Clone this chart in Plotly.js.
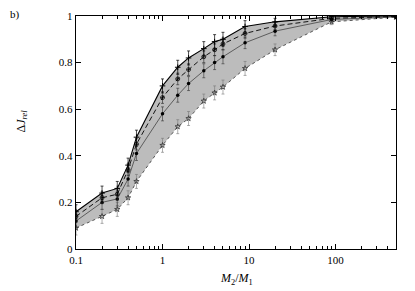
<!DOCTYPE html>
<html>
<head>
<meta charset="utf-8">
<script src="https://cdn.plot.ly/plotly-3.0.1.min.js"></script>
<style>html,body{margin:0;padding:0;background:#fff;}#chart{width:415px;height:291px;}</style>
</head>
<body>
<div id="chart"></div>
<script>
// Mass ratio M2/M1
var massRatio = [0.1, 0.2, 0.3, 0.4, 0.5, 1, 1.5, 2, 3, 4, 5, 9, 20, 90, 500];
// Upper boundary series (solid line, + markers)
var upperSeries = [0.16, 0.24, 0.26, 0.36, 0.48, 0.70, 0.78, 0.82, 0.86, 0.89, 0.90, 0.955, 0.975, 0.997, 1.0];
var upperErr    = [0.03, 0.03, 0.03, 0.03, 0.03, 0.03, 0.03, 0.03, 0.03, 0.03, 0.03, 0.025, 0.015, 0.008, 0.008];
// Dashed series (open circles)
var dashedSeries = [0.14, 0.22, 0.235, 0.34, 0.45, 0.65, 0.73, 0.77, 0.825, 0.855, 0.88, 0.925, 0.957, 0.99, 0.998];
var dashedErr    = [0.025, 0.025, 0.025, 0.025, 0.025, 0.025, 0.025, 0.025, 0.025, 0.025, 0.025, 0.02, 0.015, 0.008, 0.008];
// Solid thin series (filled circles)
var filledSeries = [0.12, 0.20, 0.215, 0.30, 0.41, 0.58, 0.66, 0.71, 0.765, 0.80, 0.825, 0.885, 0.935, 0.985, 0.997];
var filledErr    = [0.03, 0.03, 0.03, 0.03, 0.03, 0.03, 0.03, 0.03, 0.03, 0.03, 0.03, 0.025, 0.02, 0.01, 0.008];
// Lower boundary series (dotted, star markers)
var lowerSeries = [0.09, 0.14, 0.17, 0.22, 0.29, 0.445, 0.525, 0.56, 0.635, 0.67, 0.695, 0.775, 0.855, 0.975, 0.995];
var lowerErr    = [0.03, 0.03, 0.03, 0.03, 0.03, 0.03, 0.03, 0.03, 0.03, 0.03, 0.03, 0.03, 0.025, 0.012, 0.008];

var xTickVals = [0.1, 1, 10, 100];
var xTickText = ['0.1', '1', '10', '100'];
var xMinorVals = [0.2,0.3,0.4,0.5,0.6,0.7,0.8,0.9,2,3,4,5,6,7,8,9,20,30,40,50,60,70,80,90,200,300,400,500];
var yTickVals = [0, 0.2, 0.4, 0.6, 0.8, 1];
var yTickText = ['0', '0.2', '0.4', '0.6', '0.8', '1'];

var serif = '"Liberation Serif", "Times New Roman", serif';

var traces = [
  {x: massRatio, y: lowerSeries, mode: 'lines', line: {width: 0, color: 'rgba(0,0,0,0)'}, showlegend: false, hoverinfo: 'skip'},
  {x: massRatio, y: upperSeries, mode: 'lines', line: {width: 0, color: 'rgba(0,0,0,0)'}, fill: 'tonexty', fillcolor: 'rgb(188,188,188)', showlegend: false, hoverinfo: 'skip'},
  {x: massRatio, y: lowerSeries, mode: 'lines+markers', line: {color: '#555', width: 1, dash: 'dot'},
   marker: {symbol: 'star-open', size: 4, color: '#333', line: {width: 0.8}},
   error_y: {type: 'data', array: lowerErr, color: '#777', thickness: 0.6, width: 1.5}},
  {x: massRatio, y: filledSeries, mode: 'lines+markers', line: {color: '#444', width: 0.8},
   marker: {symbol: 'circle', size: 3.5, color: '#000'},
   error_y: {type: 'data', array: filledErr, color: '#333', thickness: 0.6, width: 1.5}},
  {x: massRatio, y: dashedSeries, mode: 'lines+markers', line: {color: '#000', width: 0.9, dash: '5px,3px'},
   marker: {symbol: 'circle-cross-open', size: 4, color: '#000', line: {width: 0.7}},
   error_y: {type: 'data', array: dashedErr, color: '#222', thickness: 0.6, width: 1.5}},
  {x: massRatio, y: upperSeries, mode: 'lines+markers', line: {color: '#000', width: 1.1},
   marker: {symbol: 'cross-thin-open', size: 4, color: '#000', line: {width: 1}},
   error_y: {type: 'data', array: upperErr, color: '#000', thickness: 0.7, width: 1.5}}
];

var layout = {
  width: 415, height: 291,
  margin: {l: 76, r: 19, t: 16, b: 42},
  paper_bgcolor: '#fff', plot_bgcolor: '#fff',
  showlegend: false,
  font: {family: serif, size: 11, color: '#000'},
  xaxis: {
    type: 'log', range: [-1, Math.log10(500)],
    tickmode: 'array', tickvals: xTickVals, ticktext: xTickText,
    ticks: 'inside', ticklen: 5, tickwidth: 1, tickcolor: '#000',
    minor: {tickmode: 'array', tickvals: xMinorVals, ticks: 'inside', ticklen: 3, tickwidth: 1, tickcolor: '#000', showgrid: false},
    showline: true, linecolor: '#000', linewidth: 1.3, mirror: 'ticks',
    showgrid: false, zeroline: false, tickfont: {family: serif, size: 11, color: '#000'}
  },
  yaxis: {
    range: [0, 1],
    tickmode: 'array', tickvals: yTickVals, ticktext: yTickText,
    ticks: 'inside', ticklen: 5, tickwidth: 1, tickcolor: '#000',
    showline: true, linecolor: '#000', linewidth: 1.3, mirror: 'ticks',
    showgrid: false, zeroline: false, tickfont: {family: serif, size: 11, color: '#000'}
  },
  annotations: [
    {text: 'b)', xref: 'paper', yref: 'paper', x: -0.19, y: 1.005, showarrow: false, xanchor: 'center', yanchor: 'middle', font: {family: serif, size: 11, color: '#000'}},
    {text: 'Δ<i>J</i><sub><i>rel</i></sub>', xref: 'paper', yref: 'paper', x: -0.17, y: 0.55, textangle: -90, showarrow: false, xanchor: 'center', yanchor: 'middle', font: {family: serif, size: 12, color: '#000'}},
    {text: '<i>M</i><sub>2</sub>/<i>M</i><sub>1</sub>', xref: 'paper', yref: 'paper', x: 0.5, y: -0.13, showarrow: false, xanchor: 'center', yanchor: 'middle', font: {family: serif, size: 12, color: '#000'}}
  ]
};

Plotly.newPlot('chart', traces, layout, {staticPlot: true, displayModeBar: false});
</script>
</body>
</html>
